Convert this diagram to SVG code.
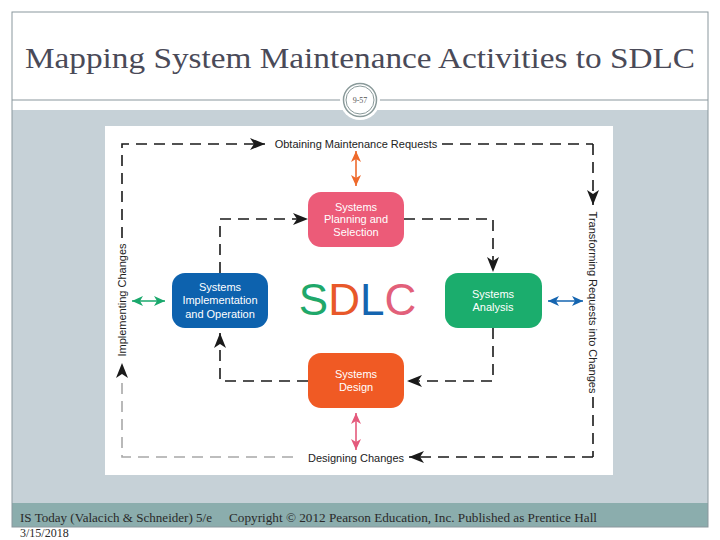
<svg xmlns="http://www.w3.org/2000/svg" width="720" height="540" viewBox="0 0 720 540">
<defs>
<style>
.title{font-family:"Liberation Serif","Times New Roman",serif;font-size:29px;fill:#4a4a58}
.foot{font-family:"Liberation Serif","Times New Roman",serif;font-size:12px;fill:#2a2a2a}
.lbl{font-family:"Liberation Sans",Arial,sans-serif;font-size:11px;fill:#222}
.nt{font-family:"Liberation Sans",Arial,sans-serif;font-size:11px;fill:#fff;text-anchor:middle}
.dash{fill:none;stroke:#1a1a1a;stroke-width:1.6;stroke-dasharray:11 7}
.gdash{fill:none;stroke:#a8a8a8;stroke-width:1.6;stroke-dasharray:11 7}
.sdlc{font-family:"Liberation Sans",Arial,sans-serif;font-size:44px}
</style>
<marker id="ah" markerUnits="userSpaceOnUse" markerWidth="16" markerHeight="12" refX="15" refY="6" orient="auto">
<path d="M0,0 L15,6 L0,12 L4,6 z" fill="#1a1a1a"/>
</marker>
<marker id="ahO" markerUnits="userSpaceOnUse" markerWidth="12" markerHeight="10" refX="11" refY="5" orient="auto-start-reverse">
<path d="M0,0 L11,5 L0,10 L3,5 z" fill="#ee6a2c"/>
</marker>
<marker id="ahP" markerUnits="userSpaceOnUse" markerWidth="12" markerHeight="10" refX="11" refY="5" orient="auto-start-reverse">
<path d="M0,0 L11,5 L0,10 L3,5 z" fill="#e45a7c"/>
</marker>
<marker id="ahG" markerUnits="userSpaceOnUse" markerWidth="12" markerHeight="10" refX="11" refY="5" orient="auto-start-reverse">
<path d="M0,0 L11,5 L0,10 L3,5 z" fill="#1aa86c"/>
</marker>
<marker id="ahB" markerUnits="userSpaceOnUse" markerWidth="12" markerHeight="10" refX="11" refY="5" orient="auto-start-reverse">
<path d="M0,0 L11,5 L0,10 L3,5 z" fill="#1565b0"/>
</marker>
</defs>

<g id="slide">
<rect x="0" y="0" width="720" height="540" fill="#fff"/>
<rect x="12" y="110" width="696" height="393" fill="#c6d1d7"/>
<rect x="12" y="503" width="696" height="24" fill="#8badad"/>
<rect x="12" y="12" width="696" height="515" fill="none" stroke="#8a979d" stroke-width="1"/>
<line x1="12" y1="100" x2="708" y2="100" stroke="#8a979d" stroke-width="1"/>
<text class="title" x="360" y="68" text-anchor="middle" textLength="670" lengthAdjust="spacingAndGlyphs">Mapping System Maintenance Activities to SDLC</text>
<circle cx="360" cy="100" r="20" fill="#fff"/>
<circle cx="360" cy="100" r="16.5" fill="#fff" stroke="#8a9a9a" stroke-width="1.5"/>
<circle cx="360" cy="100" r="14" fill="none" stroke="#8a9a9a" stroke-width="1"/>
<text x="360" y="103" text-anchor="middle" font-family="Liberation Serif, serif" font-size="8" fill="#555">9-57</text>
<text class="foot" x="20" y="522" textLength="192" lengthAdjust="spacingAndGlyphs">IS Today (Valacich &amp; Schneider) 5/e</text>
<text class="foot" x="229" y="522" textLength="368" lengthAdjust="spacingAndGlyphs">Copyright © 2012 Pearson Education, Inc. Published as Prentice Hall</text>
<text class="foot" x="20" y="537">3/15/2018</text>
</g>

<rect x="105" y="126" width="508" height="349" fill="#fff"/>

<g id="connectors">
<!-- outer loop -->
<path class="dash" d="M122,238 V144 H265" marker-end="url(#ah)"/>
<line class="dash" x1="442" y1="144" x2="593" y2="144"/>
<path class="dash" d="M593,144 V205" marker-end="url(#ah)"/>
<line class="dash" x1="593" y1="397" x2="593" y2="457"/>
<path class="dash" d="M593,457 H409" marker-end="url(#ah)"/>
<path class="gdash" d="M293,457 H122 V378"/>
<path d="M122,378 V363" stroke="none" fill="none" marker-end="url(#ah)"/>
<!-- inner loop -->
<path class="dash" d="M220,273 V219 H308" marker-end="url(#ah)"/>
<path class="dash" d="M404,219 H493 V272" marker-end="url(#ah)"/>
<path class="dash" d="M493,328 V381 H407" marker-end="url(#ah)"/>
<path class="dash" d="M308,381 H220 V333" marker-end="url(#ah)"/>
<!-- double arrows -->
<line x1="356" y1="151" x2="356" y2="186" stroke="#ee6a2c" stroke-width="1.6" marker-start="url(#ahO)" marker-end="url(#ahO)"/>
<line x1="356" y1="413" x2="356" y2="450" stroke="#e45a7c" stroke-width="1.6" marker-start="url(#ahP)" marker-end="url(#ahP)"/>
<line x1="132" y1="301" x2="165" y2="301" stroke="#1aa86c" stroke-width="1.6" marker-start="url(#ahG)" marker-end="url(#ahG)"/>
<line x1="548" y1="301" x2="583" y2="301" stroke="#1565b0" stroke-width="1.6" marker-start="url(#ahB)" marker-end="url(#ahB)"/>
</g>

<g id="labels">
<text class="lbl" x="356" y="148" text-anchor="middle">Obtaining Maintenance Requests</text>
<text class="lbl" x="356" y="462" text-anchor="middle">Designing Changes</text>
<text class="lbl" transform="translate(126,300) rotate(-90)" text-anchor="middle">Implementing Changes</text>
<text class="lbl" transform="translate(589,302.5) rotate(90)" text-anchor="middle">Transforming Requests into Changes</text>
</g>

<g id="planning">
<rect x="308" y="192" width="96" height="55" rx="13" fill="#ec5b78"/>
<text class="nt" x="356" y="211">Systems</text>
<text class="nt" x="356" y="223">Planning and</text>
<text class="nt" x="356" y="236">Selection</text>
</g>
<g id="implementation">
<rect x="172" y="273" width="96" height="55" rx="13" fill="#0d62ae"/>
<text class="nt" x="220" y="291">Systems</text>
<text class="nt" x="220" y="304">Implementation</text>
<text class="nt" x="220" y="318">and Operation</text>
</g>
<g id="analysis">
<rect x="445" y="273" width="97" height="55" rx="13" fill="#1bad6d"/>
<text class="nt" x="493" y="298">Systems</text>
<text class="nt" x="493" y="311">Analysis</text>
</g>
<g id="design">
<rect x="308" y="353" width="96" height="55" rx="13" fill="#f05a24"/>
<text class="nt" x="356" y="378">Systems</text>
<text class="nt" x="356" y="391">Design</text>
</g>
<g id="sdlc">
<text class="sdlc" x="357.5" y="315" text-anchor="middle"><tspan fill="#1fa86a">S</tspan><tspan fill="#e8582a">D</tspan><tspan fill="#1565b0">L</tspan><tspan fill="#e2607a">C</tspan></text>
</g>
</svg>
